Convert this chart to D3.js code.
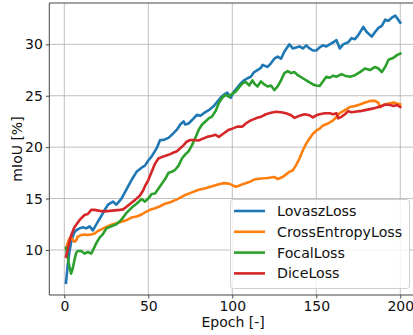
<!DOCTYPE html>
<html>
<head>
<meta charset="utf-8">
<script src="https://cdn.jsdelivr.net/npm/d3@7"></script>
<style>
  html, body { margin: 0; padding: 0; background: #fff; }
  svg { display: block; font-family: "DejaVu Sans", sans-serif; }
</style>
</head>
<body>
<svg id="chart" width="413" height="335"></svg>
<script>
// Training curves: mIoU per epoch for four loss functions
const xTicks = [0, 50, 100, 150, 200];
const yTicks = [10, 15, 20, 25, 30];
const seriesNames = ["LovaszLoss", "CrossEntropyLoss", "FocalLoss", "DiceLoss"];
const seriesColors = ["#1f77b4", "#ff7f0e", "#2ca02c", "#d62728"];

const lovaszEpochs = [1,2,3,4,5,6,7,9,11,13,15,17,18,20,22,24,26,29,31,34,37,40,43,46,48,50,52,55,57,59,62,64,67,69,71,72,74,77,79,81,83,86,89,91,93,95,97,99,101,103,105,107,109,111,113,115,117,118,121,123,125,127,129,131,134,136,138,140,142,144,146,148,150,152,154,156,158,160,162,164,166,169,171,173,175,178,180,183,185,187,189,191,193,195,197,200];
const lovaszValues = [6.8,8.5,9.8,10.7,11.3,11.7,11.9,12.1,12.2,12.1,12.3,11.9,12.2,12.75,13.3,13.9,14.4,14.7,14.4,15.0,15.9,16.8,17.6,18.0,18.2,18.7,19.1,19.9,20.7,20.7,20.9,21.2,21.7,22.2,22.5,22.2,22.3,22.8,23.15,23.05,23.3,23.6,24.0,24.4,24.8,25.1,25.3,24.8,25.4,25.8,26.2,26.5,26.7,26.85,27.3,27.5,27.7,28.0,27.8,28.15,28.6,28.8,28.6,29.3,30.0,29.6,29.7,29.8,29.6,29.9,29.6,29.4,29.4,29.7,29.9,29.8,30.0,30.2,30.4,29.6,30.0,30.2,30.6,30.5,30.9,31.7,31.2,30.75,31.2,31.6,31.8,32.4,32.3,32.6,32.8,32.1];

const crossEpochs = [1,2,3,4,5,6,7,8,10,12,14,16,18,20,22,25,28,31,34,37,40,43,46,48,51,54,57,60,64,68,72,76,80,84,88,92,95,98,100,102,104,107,110,113,117,121,125,127,130,132,134,136,138,140,142,144,146,148,150,152,154,157,160,162,164,167,170,173,176,179,182,185,187,188,190,193,196,198,200];
const crossValues = [10.15,10.7,11.1,11.2,11.0,10.8,10.9,11.3,11.45,11.5,11.45,11.5,11.6,11.85,12.0,12.25,12.45,12.6,12.75,12.9,13.15,13.25,13.45,13.65,13.9,14.05,14.25,14.5,14.7,15.0,15.35,15.6,15.85,16.0,16.2,16.4,16.5,16.45,16.3,16.15,16.25,16.45,16.6,16.85,16.95,17.0,17.1,16.9,17.1,17.35,17.6,17.75,18.25,18.9,19.7,20.35,20.85,21.3,21.6,21.8,22.1,22.3,22.6,22.95,23.3,23.6,23.9,24.0,24.15,24.35,24.5,24.5,24.3,23.9,24.1,24.25,24.35,24.25,24.15];

const focalEpochs = [1,2,3,4,5,6,7,8,10,12,14,16,18,19,21,23,25,28,31,34,37,40,43,46,48,50,52,54,57,60,62,64,66,68,70,72,74,76,78,80,82,84,86,88,90,92,94,96,98,100,102,104,106,108,110,112,113,115,117,119,121,123,125,127,129,131,133,135,137,139,142,145,148,150,152,154,156,158,160,162,165,167,170,173,176,179,182,185,187,189,191,193,196,198,200];
const focalValues = [10.2,9.3,8.4,7.7,8.2,9.0,9.7,9.9,9.9,9.65,9.8,9.65,10.3,10.65,11.2,11.55,12.1,12.3,12.5,12.95,13.6,14.1,14.5,14.95,14.7,15.0,15.45,15.5,16.2,16.9,17.5,17.6,17.8,18.2,18.9,19.3,19.6,20.2,20.9,21.7,22.2,22.5,22.8,23.0,23.5,24.3,24.8,25.1,24.9,25.2,25.4,25.8,26.2,26.35,26.0,26.5,26.2,25.9,26.4,26.1,25.9,26.0,25.55,25.9,26.5,27.2,27.4,27.2,27.3,27.0,26.7,26.4,26.1,26.0,25.95,26.4,26.85,26.75,26.95,26.85,27.1,26.95,26.85,27.0,27.3,27.65,27.5,27.8,27.65,27.3,27.8,28.5,28.7,28.95,29.1];

const diceEpochs = [1,2,3,4,6,9,12,14,16,18,21,24,27,30,33,35,37,40,42,45,47,48,50,52,54,56,59,62,64,67,69,71,73,75,77,80,82,85,88,90,92,95,98,100,103,106,108,111,114,117,120,123,126,129,132,135,137,140,143,146,148,150,152,155,158,160,162,163,165,167,169,171,173,176,179,182,185,187,189,191,194,196,198,200];
const diceValues = [9.35,10.0,10.8,11.4,12.2,12.9,13.4,13.5,13.9,13.9,13.8,13.75,13.8,13.85,13.9,13.95,14.2,14.6,14.85,15.3,15.8,16.2,16.8,17.6,18.4,18.9,19.1,19.25,19.4,19.6,19.9,20.2,20.55,20.7,20.7,20.65,20.8,21.0,21.1,21.2,21.0,21.35,21.7,21.8,22.0,22.0,22.3,22.6,22.8,22.95,23.2,23.35,23.45,23.4,23.3,23.1,22.85,23.05,23.2,23.1,22.9,23.1,23.2,23.3,23.3,23.2,23.3,22.8,22.95,23.2,23.5,23.4,23.45,23.5,23.6,23.7,23.8,23.9,24.0,24.15,24.1,24.0,24.1,23.9];

const epochLists = [lovaszEpochs, crossEpochs, focalEpochs, diceEpochs];
const valueLists = [lovaszValues, crossValues, focalValues, diceValues];

const svg = d3.select("#chart");
const plotLeft = 49.3, plotRight = 417, plotTop = 3, plotBottom = 295;

const x = d3.scaleLinear().domain([-8.95, 209.95]).range([plotLeft, plotRight]);
const y = d3.scaleLinear().domain([5.62, 34.02]).range([plotBottom, plotTop]);

// grid
const grid = svg.append("g");
grid.selectAll(".gx").data(xTicks).join("line")
  .attr("x1", d => x(d)).attr("x2", d => x(d))
  .attr("y1", plotTop).attr("y2", plotBottom)
  .attr("stroke", "#b0b0b0").attr("stroke-width", 1).attr("stroke-opacity", 0.8);
grid.selectAll(".gy").data(yTicks).join("line")
  .attr("x1", plotLeft).attr("x2", plotRight)
  .attr("y1", d => y(d)).attr("y2", d => y(d))
  .attr("stroke", "#b0b0b0").attr("stroke-width", 1).attr("stroke-opacity", 0.8);

// series
const line = d3.line().x(d => x(d[0])).y(d => y(d[1]));
seriesNames.forEach((name, i) => {
  const pts = epochLists[i].map((e, j) => [e, valueLists[i][j]]);
  svg.append("path").datum(pts)
    .attr("d", line)
    .attr("fill", "none")
    .attr("stroke", seriesColors[i])
    .attr("stroke-width", 2.6)
    .attr("stroke-linejoin", "round")
    .attr("stroke-linecap", "square");
});

// axes
const xAxis = d3.axisBottom(x).tickValues(xTicks).tickSize(3.5).tickPadding(3);
const yAxis = d3.axisLeft(y).tickValues(yTicks).tickSize(3.5).tickPadding(3);
const gx = svg.append("g").attr("transform", `translate(0,${plotBottom})`).call(xAxis);
const gy = svg.append("g").attr("transform", `translate(${plotLeft},0)`).call(yAxis);
[gx, gy].forEach(g => {
  g.select(".domain").remove();
  g.selectAll("line").attr("stroke", "#333").attr("stroke-width", 0.9);
  g.selectAll("text").attr("fill", "#111").style("font-size", "14px").style("font-family", "DejaVu Sans");
});

// spines
svg.append("line").attr("x1", plotLeft).attr("x2", plotLeft).attr("y1", plotTop).attr("y2", plotBottom)
  .attr("stroke", "#444").attr("stroke-width", 1);
svg.append("line").attr("x1", plotLeft).attr("x2", plotRight).attr("y1", plotBottom).attr("y2", plotBottom)
  .attr("stroke", "#444").attr("stroke-width", 1);
svg.append("line").attr("x1", plotLeft).attr("x2", plotRight).attr("y1", plotTop).attr("y2", plotTop)
  .attr("stroke", "#444").attr("stroke-width", 1);

// axis labels
svg.append("text").attr("x", (plotLeft + plotRight) / 2).attr("y", 327)
  .attr("text-anchor", "middle").style("font-size", "14px").attr("fill", "#111").text("Epoch [-]");
svg.append("text").attr("transform", `translate(22,${(plotTop + plotBottom) / 2}) rotate(-90)`)
  .attr("text-anchor", "middle").style("font-size", "14px").attr("fill", "#111").text("mIoU [%]");

// legend
const lg = svg.append("g");
lg.append("rect").attr("x", 230.5).attr("y", 199.5).attr("width", 179).attr("height", 89)
  .attr("rx", 3).attr("fill", "#fff").attr("fill-opacity", 0.8)
  .attr("stroke", "#d0d0d0").attr("stroke-width", 1);
seriesNames.forEach((name, i) => {
  const cy = 211 + i * 20.8;
  lg.append("line").attr("x1", 234).attr("x2", 265).attr("y1", cy).attr("y2", cy)
    .attr("stroke", seriesColors[i]).attr("stroke-width", 2.6);
  lg.append("text").attr("x", 277).attr("y", cy + 5).style("font-size", "14.2px")
    .attr("fill", "#111").text(name);
});
</script>
</body>
</html>
